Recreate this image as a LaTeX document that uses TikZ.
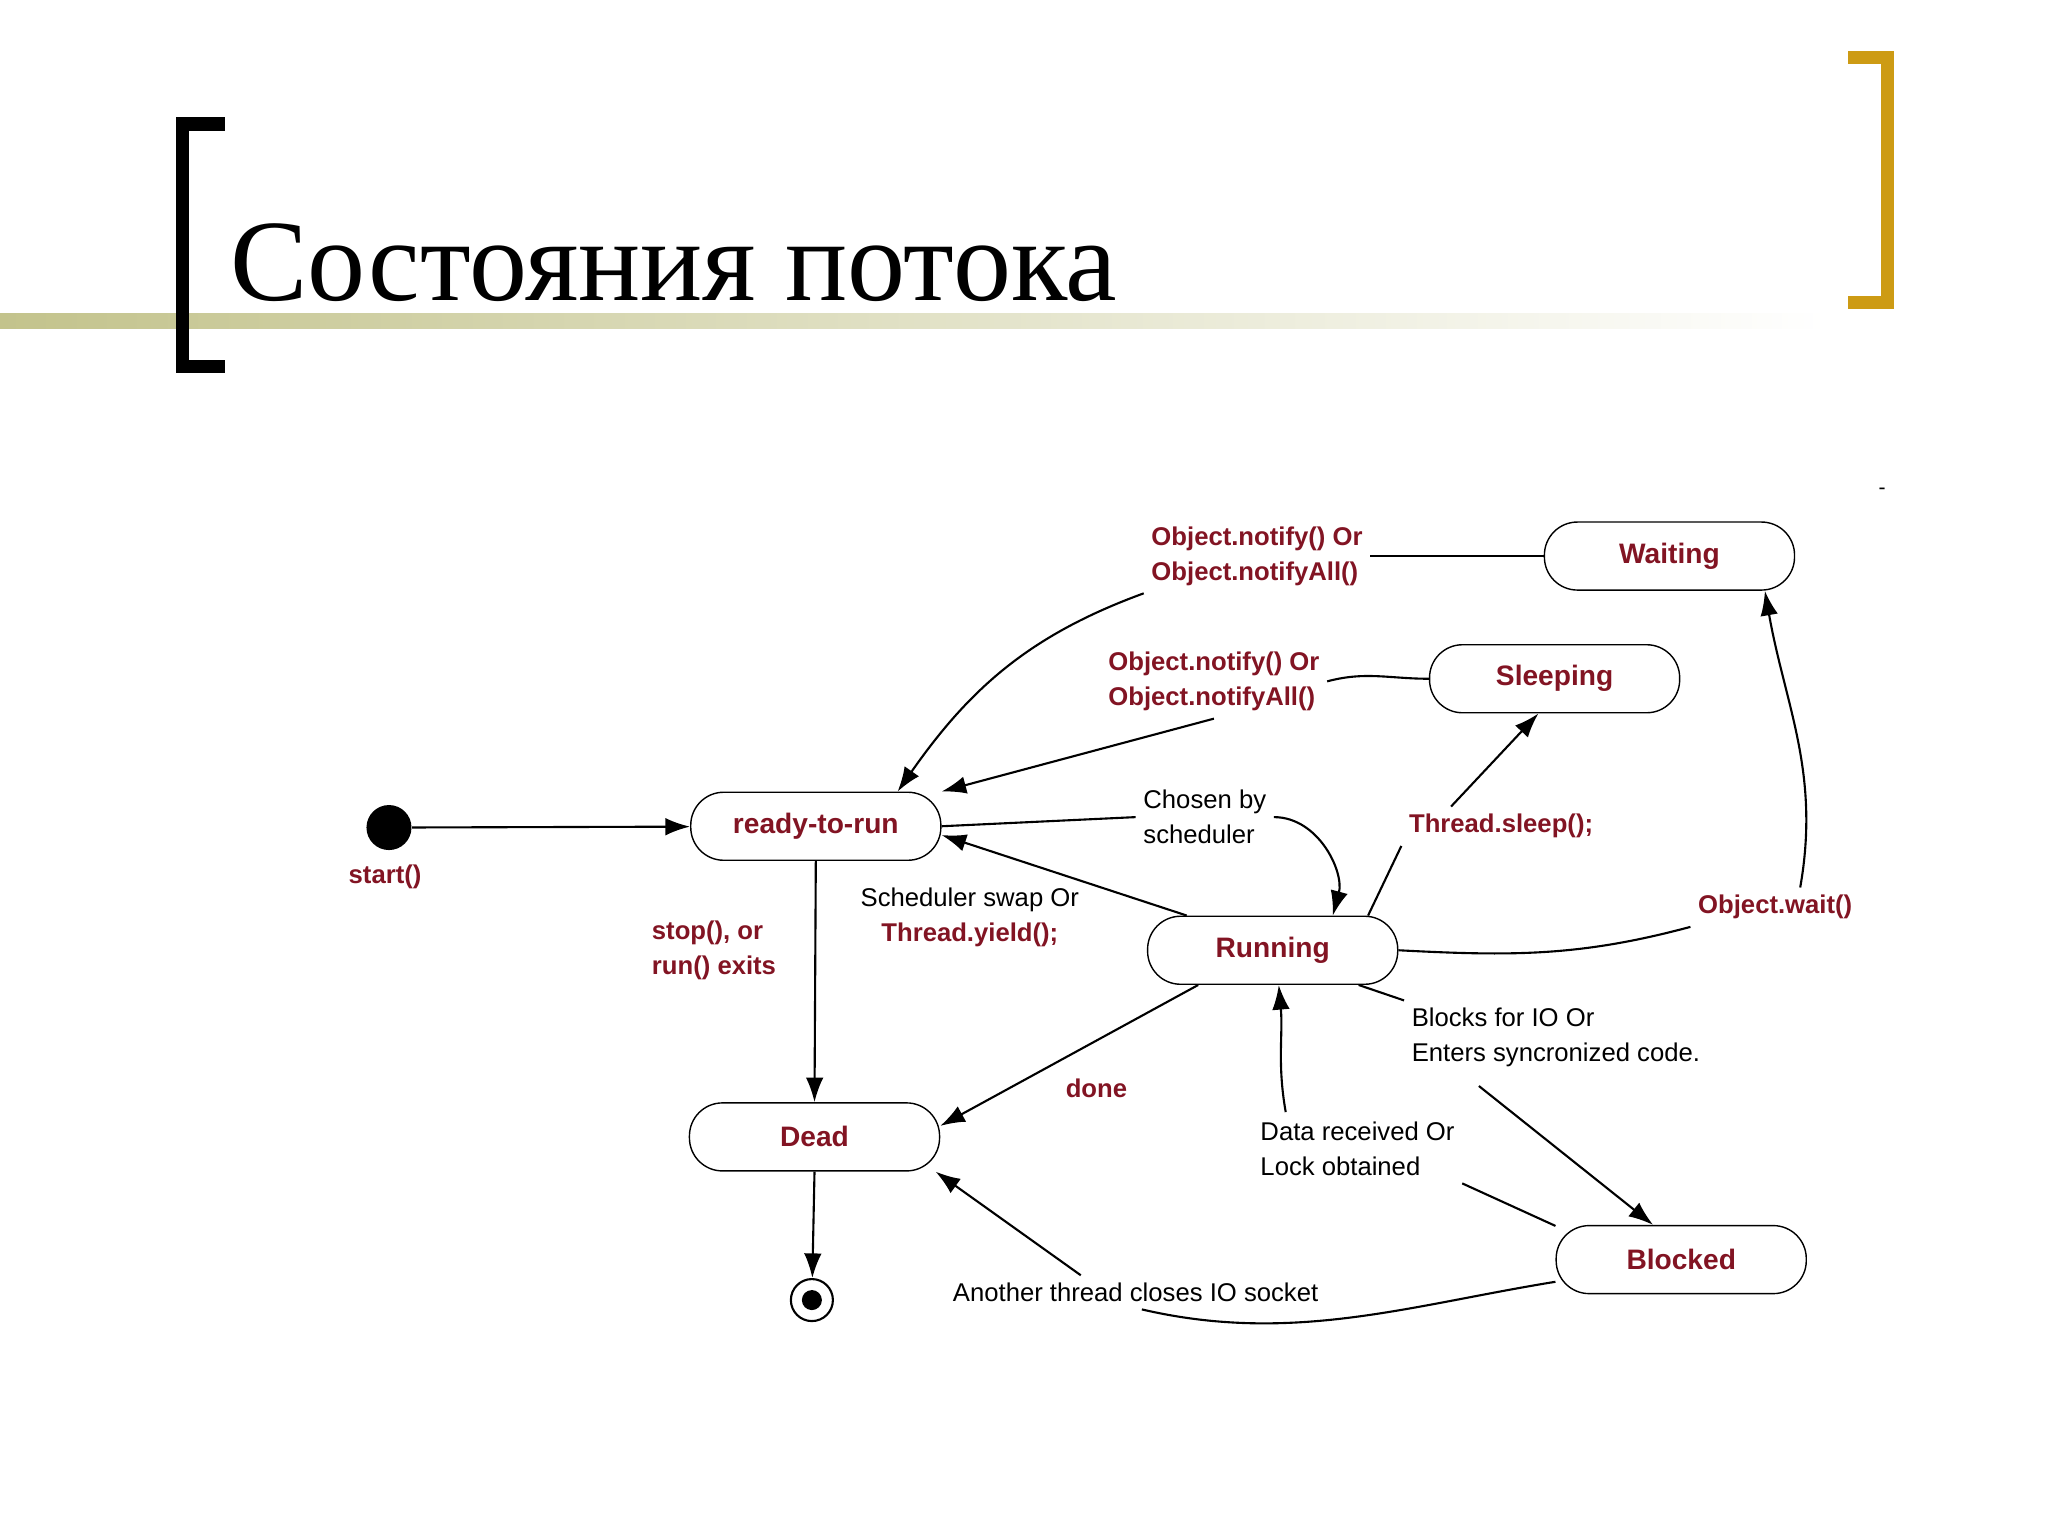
\documentclass[tikz,border=0pt]{standalone}
\usepackage{fontspec}
\setmainfont{Liberation Serif}
\newfontfamily\diagfont{Liberation Sans}
\usetikzlibrary{arrows.meta}
\definecolor{lblred}{RGB}{130,20,35}
\definecolor{brgold}{RGB}{205,155,20}
\definecolor{rulegreen}{RGB}{195,195,140}
\begin{document}
\begin{tikzpicture}[x=0.01305cm, y=-0.01305cm,
    state/.style={rectangle, draw, rounded corners=0.33cm, minimum width=2.5cm, minimum height=0.68cm, font=\diagfont\fontsize{8}{9}\selectfont\bfseries, text=lblred},
    redlbl/.style={font=\diagfont\fontsize{7.3}{10}\selectfont\bfseries, text=lblred, align=left, inner sep=2pt},
    blklbl/.style={font=\diagfont\fontsize{7.3}{10}\selectfont, align=left, inner sep=2pt},
    arrow/.style={-{Latex[length=7pt,width=5pt]}, semithick},
    line/.style={semithick}
]
\useasboundingbox (0,0) rectangle (1569,1177);
% title
\shade[left color=rulegreen, right color=white] (0,240) rectangle (1400,252);
\draw[line width=0.13cm, line cap=butt] (172,95) -- (140,95) -- (140,281) -- (172,281);
\draw[brgold, line width=0.13cm] (1416,44) -- (1446,44) -- (1446,232) -- (1416,232);
\node[anchor=base west, inner sep=0, font=\fontsize{33}{36}\selectfont] (title) at (176,230) {Состояния потока};
\node[inner sep=0, font=\diagfont\fontsize{6}{6}\selectfont] (dash) at (1442,376) {-};

% states
\node[state] (waiting) at (1279,426) {Waiting};
\node[state] (sleeping) at (1191,520) {Sleeping};
\node[state] (ready) at (625,633) {ready-to-run};
\node[state] (running) at (975,728) {Running};
\node[state] (dead) at (624,871) {Dead};
\node[state] (blocked) at (1288,965) {Blocked};
\node[circle, fill, minimum size=0.45cm, inner sep=0] (start) at (298,634) {};
\node[circle, draw, semithick, minimum size=0.42cm, inner sep=0] (final) at (622,996) {};
\fill (final) circle (0.1cm);

% labels
\node[redlbl] (startlbl) at (295,672) {start()};
\node[redlbl] (notifyW) at (963,426) {Object.notify() Or\\Object.notifyAll()};
\node[redlbl] (notifyS) at (930,522) {Object.notify() Or\\Object.notifyAll()};
\node[blklbl] (chosen) at (923,626) {Chosen by\\scheduler};
\node[redlbl] (sleeplbl) at (1150,633) {Thread.sleep();};
\node[redlbl] (waitlbl) at (1360,695) {Object.wait()};
\node[blklbl, align=center] (swap) at (743,703) {Scheduler swap Or\\\textcolor{lblred}{\bfseries Thread.yield();}};
\node[redlbl] (stoplbl) at (547,728) {stop(), or\\run() exits};
\node[redlbl] (donelbl) at (840,834) {done};
\node[blklbl] (blocks) at (1192,795) {Blocks for IO Or\\Enters syncronized code.};
\node[blklbl] (data) at (1040,880) {Data received Or\\Lock obtained};
\node[blklbl] (socket) at (870,990) {Another thread closes IO socket};
\coordinate (b1) at (1133,832);
\coordinate (d1) at (985,852);
\coordinate (s1) at (828,977);

% transitions
\draw[arrow] (start) -- (ready);
\draw[line] (waiting.west) -- (notifyW.east);
\draw[arrow] (notifyW.south west) to[out=200,in=55] (ready.23);
\draw[line] (sleeping.west) to[out=180,in=15] (notifyS.east);
\draw[arrow] (notifyS.south) -- (ready.north east);
\draw[line] (ready.east) -- (chosen.west);
\draw[arrow] (chosen.east) to[out=0,in=75] (running.30);
\draw[arrow] (running.158) -- (ready.-4);
\draw[line] (running.20) -- (sleeplbl.south west);
\draw[arrow] ([xshift=-0.5cm]sleeplbl.north) -- (sleeping.245);
\draw[line] (running.east) to[out=-3,in=195] (waitlbl.south west);
\draw[arrow] ([xshift=0.25cm]waitlbl.north) to[out=80,in=-80] (waiting.-20);
\draw[arrow] (ready.south) -- (dead.north);
\draw[arrow] (running.205) -- (dead.5);
\draw[line] (running.-22) -- (blocks.north west);
\draw[arrow] (b1) -- (blocked.129);
\draw[line] (blocked.165) -- (data.south east);
\draw[arrow] (d1) to[out=100,in=-85] (running.-80);
\draw[line] (blocked.190) .. controls (1080,1000) and (990,1030) .. (socket.-70);
\draw[arrow] (s1) -- (dead.-16);
\draw[arrow] (dead.south) -- (final);
\end{tikzpicture}
\end{document}
